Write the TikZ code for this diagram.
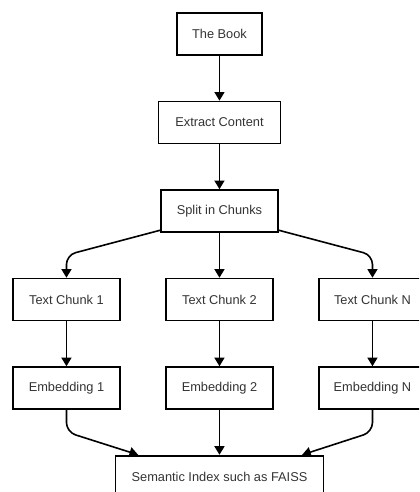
\documentclass[tikz,border=0pt]{standalone}
\usepackage{fontspec}
\setmainfont{Liberation Sans}
\usepackage{tikz}
\usetikzlibrary{arrows.meta, calc}

\begin{document}
\begin{tikzpicture}[
  box/.style={rectangle, draw, line width=1.3pt, minimum height=31.5pt, text=black!80, font=\fontsize{9.6pt}{11pt}\selectfont},
  arr/.style={line width=1.2pt, -{Triangle[width=7.5pt, length=6.5pt]}, rounded corners=7pt},
  node distance=66.4pt]

 \useasboundingbox (0,0) rectangle (314.25pt,-369pt);
 \clip (0,0) rectangle (314.25pt,-369pt);

 %%%  nodes

 % pipeline nodes
 \node [box, minimum width=63.75pt] (book) at (164.6pt,-25.5pt) {The Book};
 \node [box, minimum width=91.5pt, below of=book] (extract) {Extract Content};
 \node [box, minimum width=87.75pt, below of=extract] (split) {Split in Chunks};

 % chunk nodes
 \node [box, minimum width=80pt, below of=split] (chunk2) {Text Chunk 2};
 \node [box, minimum width=80pt, left of=chunk2, node distance=114.75pt] (chunk1) {Text Chunk 1};
 \node [box, minimum width=80pt, right of=chunk2, node distance=114.75pt] (chunkn) {Text Chunk N};

 % embedding nodes
 \node [box, minimum width=80pt, below of=chunk1] (emb1) {Embedding 1};
 \node [box, minimum width=80pt, below of=chunk2] (emb2) {Embedding 2};
 \node [box, minimum width=80pt, below of=chunkn] (embn) {Embedding N};

 % index node
 \node [box, minimum width=156pt, below of=emb2] (index) {Semantic Index such as FAISS};

 %%%  arrows

 \draw [arr] (book) to (extract);
 \draw [arr] (extract) to (split);

 \draw [arr] ([yshift=2pt]split.south west) -- ($(chunk1.north)+(0,17pt)$) -- (chunk1.north);
 \draw [arr] (split) to (chunk2);
 \draw [arr] ([yshift=2pt]split.south east) -- ($(chunkn.north)+(0,17pt)$) -- (chunkn.north);

 \draw [arr] (chunk1) to (emb1);
 \draw [arr] (chunk2) to (emb2);
 \draw [arr] (chunkn) to (embn);

 \draw [arr] (emb1.south) -- ($(emb1.south)+(0,-16.5pt)$) -- ([xshift=-61pt]index.north);
 \draw [arr] (emb2) to (index);
 \draw [arr] (embn.south) -- ($(embn.south)+(0,-16.5pt)$) -- ([xshift=62pt]index.north);

\end{tikzpicture}
\end{document}
